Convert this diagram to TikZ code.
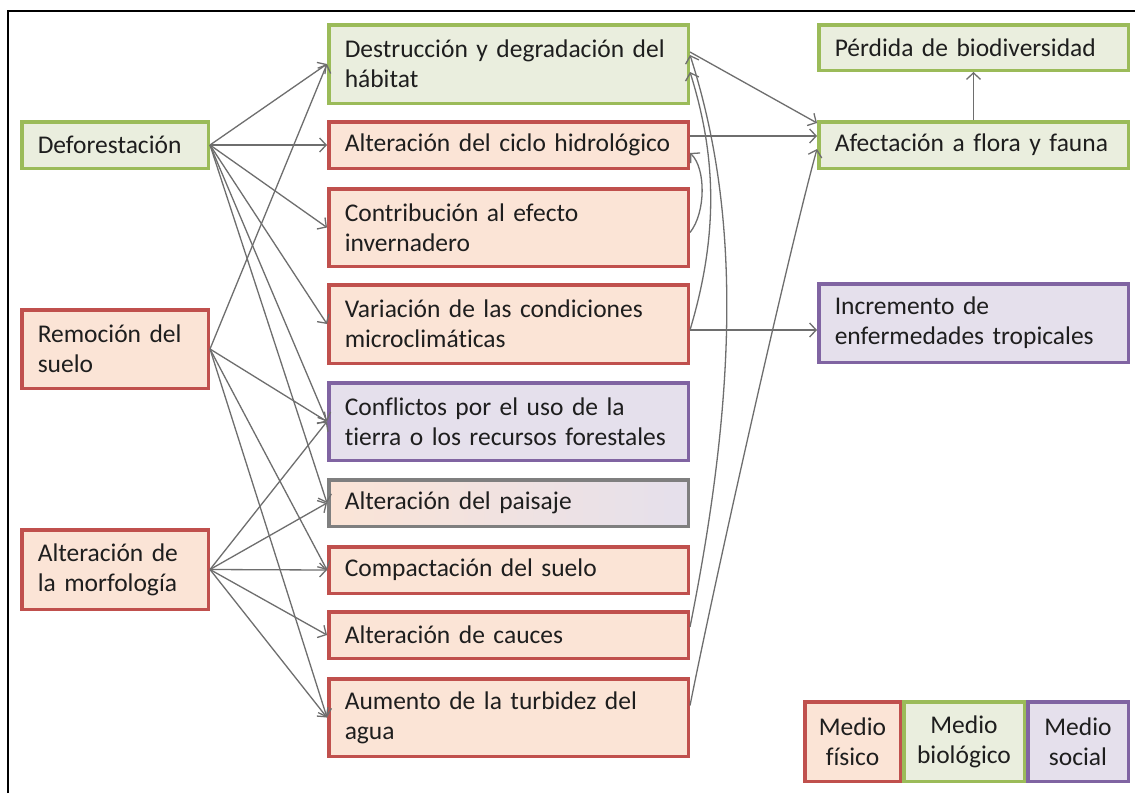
\documentclass[tikz,border=0pt]{standalone}
\usepackage{fontspec}
\setmainfont{Carlito}[Ligatures=NoCommon]
\usetikzlibrary{arrows.meta,calc}
\definecolor{physB}{HTML}{C0504D}
\definecolor{physF}{RGB}{251,228,214}
\definecolor{bioB}{HTML}{9BBB59}
\definecolor{bioF}{RGB}{234,238,222}
\definecolor{socB}{HTML}{8064A2}
\definecolor{socF}{RGB}{229,224,236}
\definecolor{grayB}{HTML}{7F7F7F}
\definecolor{midF}{RGB}{238,236,214}
\definecolor{lineC}{RGB}{110,110,110}
\definecolor{txt}{RGB}{30,30,30}
\begin{document}
\begin{tikzpicture}[x=1pt,y=-1pt,
  box/.style={draw, line width=3.5pt, anchor=north west, inner xsep=16pt, inner ysep=0pt,
    align=left, text=txt, font=\fontsize{25.5}{30}\selectfont},
  lcol/.style={minimum width=186.5pt, text width=154.5pt},
  mcol/.style={minimum width=359.5pt, text width=327.5pt},
  rcol/.style={minimum width=309.5pt, text width=277.5pt},
  phys/.style={box, draw=physB, fill=physF},
  bio/.style={box, draw=bioB, fill=bioF},
  soc/.style={box, draw=socB, fill=socF},
  mixed/.style={box, draw=grayB, left color=physF, middle color=midF, right color=socF},
  legcell/.style={draw, line width=3.5pt, anchor=north west, inner sep=0pt, align=center,
    text=txt, font=\fontsize{25.5}{30}\selectfont, minimum height=79.5pt},
  conn/.style={draw=lineC, line width=1.3pt, -{Straight Barb[length=6.5pt,width=14pt]}}]
\useasboundingbox (0,0) rectangle (1135,793);
\fill[white] (0,0) rectangle (1135,793);
\draw[line width=2.2pt] (8,793) -- (8,11) -- (1135,11);

% left column
\node[bio, lcol, minimum height=46.5pt] (D) at (20,120) {Deforestación};
\node[phys, lcol, minimum height=78.5pt] (Rem) at (20,308) {Remoción del\\suelo};
\node[phys, lcol, minimum height=79.5pt] (Morf) at (20,528) {Alteración de\\la morfología};

% middle column
\node[bio, mcol, minimum height=78.5pt] (Destr) at (327,23) {Destrucción y degradación del\\hábitat};
\node[phys, mcol, minimum height=46.5pt] (Ciclo) at (327,120) {Alteración del ciclo hidrológico};
\node[phys, mcol, minimum height=77.5pt] (Contrib) at (327,187) {Contribución al efecto\\invernadero};
\node[phys, mcol, minimum height=78.5pt] (Var) at (327,283) {Variación de las condiciones\\microclimáticas};
\node[soc, mcol, minimum height=77.5pt] (Confl) at (327,381) {Conflictos por el uso de la\\tierra o los recursos forestales};
\node[mixed, mcol, minimum height=46.5pt] (Pais) at (327,478) {Alteración del paisaje};
\node[phys, mcol, minimum height=46.5pt] (Comp) at (327,545) {Compactación del suelo};
\node[phys, mcol, minimum height=46.5pt] (Cauc) at (327,610) {Alteración de cauces};
\node[phys, mcol, minimum height=77.5pt] (Turb) at (327,677) {Aumento de la turbidez del\\agua};

% right column
\node[bio, rcol, minimum height=45.5pt] (Perd) at (817,23) {Pérdida de biodiversidad};
\node[bio, rcol, minimum height=46.5pt] (Afect) at (817,120) {Afectación a flora y fauna};
\node[soc, rcol, minimum height=78.5pt] (Incr) at (817,282) {Incremento de\\enfermedades tropicales};

% legend
\node[legcell, draw=physB, fill=physF, minimum width=95.5pt] (L1) at (803,700) {Medio\\físico};
\node[legcell, draw=socB, fill=socF, minimum width=100.5pt] (L3) at (1026,700) {Medio\\social};
\node[legcell, draw=bioB, fill=bioF, minimum width=120.5pt] (L2) at (902,700) {Medio\\biológico};

% connectors from Deforestación
\draw[conn] (D.east) -- (Destr.west);
\draw[conn] (D.east) -- (Ciclo.west);
\draw[conn] (D.east) -- (Contrib.west);
\draw[conn] (D.east) -- (Var.west);
\draw[conn] (D.east) -- (Confl.west);
\draw[conn] (D.east) -- (Pais.west);
% from Remoción del suelo
\draw[conn] (Rem.east) -- (Destr.west);
\draw[conn] (Rem.east) -- (Confl.west);
\draw[conn] (Rem.east) -- (Comp.west);
\draw[conn] (Rem.east) -- (Turb.west);
% from Alteración de la morfología
\draw[conn] (Morf.east) -- (Confl.west);
\draw[conn] (Morf.east) -- (Pais.west);
\draw[conn] (Morf.east) -- (Comp.west);
\draw[conn] (Morf.east) -- (Cauc.west);
\draw[conn] (Morf.east) -- (Turb.west);

% right side
\draw[conn] ([yshift=12pt]Destr.east) -- ([yshift=22pt]Afect.west);
\draw[conn] ([yshift=9pt]Ciclo.east) -- ([yshift=9pt]Afect.west);
\draw[conn] ([yshift=12pt]Turb.east) .. controls +(30,-150) and +(-25,90) .. ([yshift=-4pt]Afect.west);
\draw[conn] ([yshift=-6pt]Var.east) -- ([yshift=-7pt]Incr.west);
\draw[conn] (Afect.north) -- (Perd.south);
\draw[conn] ([yshift=-5pt]Contrib.east) .. controls +(16,-20) and +(16,15) .. ([yshift=-8pt]Ciclo.east);
\draw[conn] ([yshift=-6pt]Var.east) .. controls +(30,-100) and +(25,80) .. ([yshift=-8pt]Destr.east);
\draw[conn] ([yshift=8pt]Cauc.east) .. controls +(50,-250) and +(48,150) .. ([yshift=9pt]Destr.east);
\end{tikzpicture}
\end{document}
